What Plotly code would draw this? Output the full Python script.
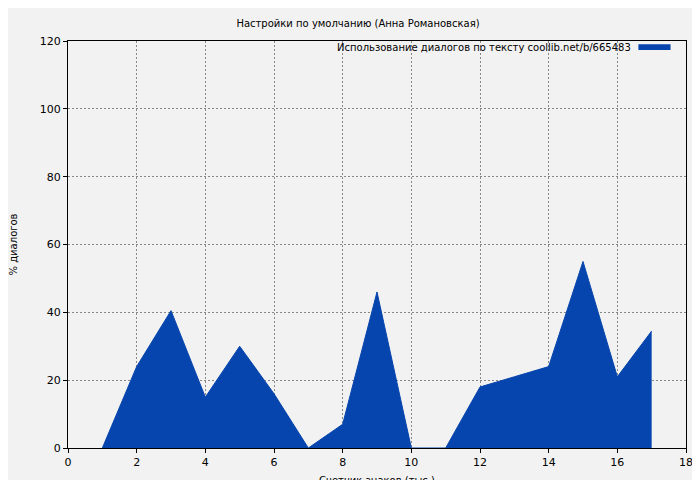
import plotly.graph_objects as go

x_vals = [1, 2, 3, 4, 5, 6, 7, 8, 9, 10, 11, 12, 13, 14, 15, 16, 17]
y_vals = [0, 24, 40.5, 15, 30, 16, 0, 7, 46, 0, 0, 18, 21, 24, 55, 21, 34.5]
series_name = "Использование диалогов по тексту coollib.net/b/665483"

fig = go.Figure(go.Scatter(
    x=x_vals, y=y_vals, mode="lines", fill="tozeroy",
    line=dict(color="#0645ad", width=1), fillcolor="#0645ad",
    name=series_name, showlegend=False))

axis = dict(showline=True, linecolor="black", mirror=True, ticks="outside", ticklen=4,
            tickcolor="black", gridcolor="#888", griddash="2px,2px", zeroline=False,
            automargin=False, tickfont=dict(size=11, color="black"))
fig.update_layout(
    width=700, height=480, paper_bgcolor="#f2f2f2", plot_bgcolor="#f2f2f2",
    margin=dict(l=60, r=22, t=33, b=40),
    font=dict(family="DejaVu Sans", size=10, color="black"),
    title=dict(text="Настройки по умолчанию (Анна Романовская)", x=0.5, y=0.975,
               xanchor="center", font=dict(size=10)),
    xaxis=dict(axis, range=[0, 18], dtick=2,
               title=dict(text="Счетчик знаков (тыс.)", font=dict(size=10), standoff=8)),
    yaxis=dict(axis, range=[0, 120], dtick=20,
               title=dict(text="% диалогов", font=dict(size=10), standoff=20)),
    annotations=[dict(text=series_name, xref="paper", yref="paper", x=0.915, y=0.985,
                      xanchor="right", yanchor="middle", showarrow=False, font=dict(size=10))],
    shapes=[dict(type="rect", xref="paper", yref="paper", x0=0.923, x1=0.975,
                 y0=0.978, y1=0.992, fillcolor="#0645ad", line=dict(width=0))],
)
fig.write_html("out.html")
